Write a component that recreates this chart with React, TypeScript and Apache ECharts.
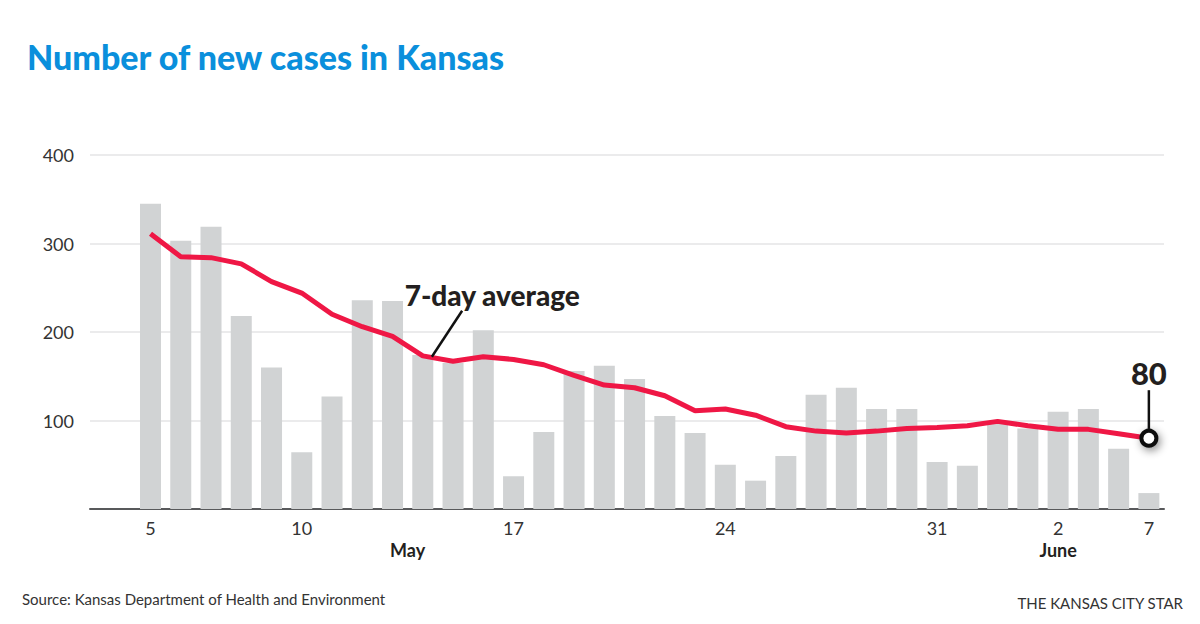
import React, { useEffect, useRef } from "react";
import * as echarts from "echarts";

// Daily new cases, May 5 onward
const cases = [
  345, 303, 319, 218, 160, 64, 127, 236, 235, 174, 165, 202, 37, 87, 156, 162, 147,
  105, 86, 50, 32, 60, 129, 137, 113, 113, 53, 49, 97, 91, 110, 113, 68, 18,
];

// 7-day rolling average
const avg = [
  311, 285, 284, 277, 257, 244, 220, 206, 195, 173, 167, 172, 169, 163, 151, 140, 137,
  128, 111, 113, 106, 93, 88, 86, 88, 91, 92, 94, 99, 94, 90, 90, 85, 80,
];

// Day-of-month tick labels (blank where no label is printed)
const dayLabels = [
  "5", "", "", "", "", "10", "", "", "", "", "", "", "17", "", "", "", "", "",
  "", "24", "", "", "", "", "", "", "31", "", "", "", "2", "", "", "7",
];

// Month names and the category position they sit under
const months = [
  { name: "May", at: 8.5 },
  { name: "June", at: 30 },
];

const yTicks = [0, 100, 200, 300, 400];

const FONT = "Lato, 'Open Sans', sans-serif";
const RED = "#ef1745";
const BAR = "#d1d3d4";
const INK = "#231f20";

export default function App() {
  const ref = useRef<HTMLDivElement>(null);

  useEffect(() => {
    if (!ref.current) return;
    const chart = echarts.init(ref.current, null, { renderer: "svg" });
    const last = avg.length - 1;

    chart.setOption({
      animation: false,
      backgroundColor: "#ffffff",
      textStyle: { fontFamily: FONT },
      title: {
        text: "Number of new cases in Kansas",
        left: 22,
        top: 34,
        textStyle: { fontFamily: FONT, fontSize: 34, fontWeight: 900, color: "#0a8fdc" },
      },
      grid: { left: 90, right: 36, top: 155, bottom: 115 },
      xAxis: {
        type: "value",
        min: -2,
        max: 33.5,
        interval: 1,
        splitLine: { show: false },
        axisTick: { show: false },
        axisLine: { show: true, lineStyle: { color: "#58595b", width: 2 } },
        axisLabel: {
          margin: 10,
          fontSize: 18,
          lineHeight: 18,
          color: "#333",
          fontFamily: FONT,
          showMinLabel: false,
          showMaxLabel: false,
          formatter: (v: number) =>
            Number.isInteger(v) && v >= 0 && v < dayLabels.length ? dayLabels[v] : "",
        },
      },
      yAxis: {
        type: "value",
        min: yTicks[0],
        max: yTicks[yTicks.length - 1],
        interval: 100,
        axisLine: { show: false },
        axisTick: { show: false },
        splitLine: { lineStyle: { color: "#e4e5e6", width: 1.5 } },
        axisLabel: {
          margin: 16,
          fontSize: 18,
          color: "#333",
          fontFamily: FONT,
          formatter: (v: number) => (v === 0 ? "" : String(v)),
        },
      },
      series: [
        {
          type: "bar",
          data: cases.map((v, i) => [i, v]),
          barWidth: 21,
          itemStyle: { color: BAR },
          z: 1,
        },
        {
          type: "line",
          data: avg.map((v, i) =>
            i === last
              ? {
                  value: [i, v],
                  symbol: "circle",
                  symbolSize: 15,
                  itemStyle: {
                    color: "#ffffff",
                    borderColor: "#111111",
                    borderWidth: 4,
                    shadowBlur: 8,
                    shadowColor: "rgba(0,0,0,0.45)",
                    shadowOffsetX: 2,
                    shadowOffsetY: 3,
                  },
                  label: {
                    show: true,
                    position: "top",
                    distance: 40,
                    formatter: () => String(v),
                    fontSize: 31,
                    fontWeight: 900,
                    color: INK,
                    fontFamily: FONT,
                  },
                }
              : [i, v]
          ),
          symbol: "none",
          showSymbol: true,
          lineStyle: { color: RED, width: 5 },
          z: 3,
        },
      ],
    });

    // Annotations anchored in data coordinates
    const px = (p: [number, number]) =>
      chart.convertToPixel({ xAxisIndex: 0, yAxisIndex: 0 }, p) as number[];

    const ptrA = px([9.3, 172]);
    const ptrB = px([10.3, 224]);
    const lbl = px([8.4, 242]);
    const endPt = px([last, avg[last]]);

    const monthTexts = months.map((m) => ({
      type: "text",
      x: px([m.at, 0])[0],
      y: 550,
      style: {
        text: m.name,
        fontSize: 18,
        fontWeight: "bold",
        fontFamily: FONT,
        fill: INK,
        align: "center",
        verticalAlign: "middle",
      },
    }));

    chart.setOption({
      graphic: [
        ...monthTexts,
        {
          type: "line",
          shape: { x1: ptrA[0], y1: ptrA[1], x2: ptrB[0], y2: ptrB[1] },
          style: { stroke: "#111", lineWidth: 2.5 },
          z: 10,
        },
        {
          type: "text",
          x: lbl[0],
          y: lbl[1],
          style: {
            text: "7-day average",
            fontSize: 28,
            fontWeight: 900,
            fontFamily: FONT,
            fill: INK,
            align: "left",
            verticalAlign: "middle",
          },
          z: 10,
        },
        {
          type: "line",
          shape: { x1: endPt[0], y1: endPt[1] - 9, x2: endPt[0], y2: endPt[1] - 48 },
          style: { stroke: "#111", lineWidth: 2.5 },
          z: 2,
        },
        {
          type: "text",
          x: 22,
          y: 599,
          style: {
            text: "Source: Kansas Department of Health and Environment",
            fontSize: 15,
            fontFamily: FONT,
            fill: "#333",
            verticalAlign: "middle",
          },
        },
        {
          type: "text",
          x: 1183,
          y: 603,
          style: {
            text: "THE KANSAS CITY STAR",
            fontSize: 15,
            fontFamily: FONT,
            fill: "#333",
            align: "right",
            verticalAlign: "middle",
          },
        },
      ],
    });

    return () => chart.dispose();
  }, []);

  return (
    <div
      ref={ref}
      style={{ position: "fixed", left: 0, top: 0, width: 1200, height: 624 }}
    />
  );
}
